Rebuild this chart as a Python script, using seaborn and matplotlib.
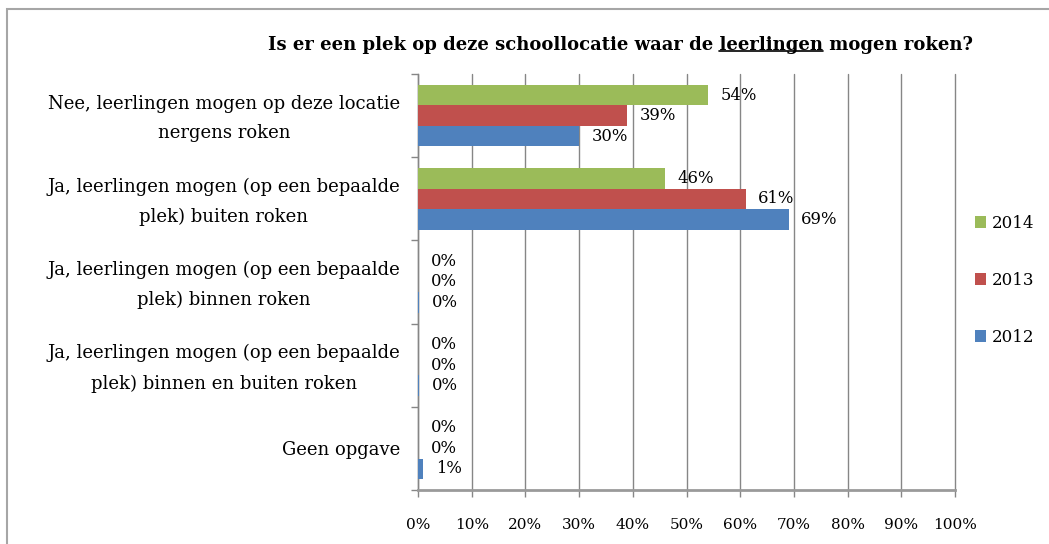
import numpy as np
import pandas as pd
import matplotlib
matplotlib.use("Agg")
import matplotlib.pyplot as plt
import matplotlib.patches as mpatches
import matplotlib.transforms as mtransforms
import seaborn as sns

categories = [
    "Nee, leerlingen mogen op deze locatie\nnergens roken",
    "Ja, leerlingen mogen (op een bepaalde\nplek) buiten roken",
    "Ja, leerlingen mogen (op een bepaalde\nplek) binnen roken",
    "Ja, leerlingen mogen (op een bepaalde\nplek) binnen en buiten roken",
    "Geen opgave",
]
years = ["2014", "2013", "2012"]
vals_2014 = [54, 46, 0, 0, 0]
vals_2013 = [39, 61, 0, 0, 0]
vals_2012 = [30, 69, 0.2, 0.2, 1]
colors = ["#9BBB59", "#C0504D", "#4F81BD"]

df = pd.DataFrame({
    "categorie": categories * 3,
    "jaar": [y for y in years for _ in categories],
    "pct": vals_2014 + vals_2013 + vals_2012,
})

sns.set_style("white")
plt.rcParams["font.family"] = ["DejaVu Serif"]
plt.rcParams["text.color"] = "black"
plt.rcParams["xtick.labelcolor"] = "black"
plt.rcParams["ytick.labelcolor"] = "black"

fig = plt.figure(figsize=(10.49, 5.44), dpi=100)
ax = fig.add_axes([418 / 1049, 1 - 490 / 544, (955 - 418) / 1049, (490 - 74) / 544])

sns.barplot(data=df, y="categorie", x="pct", hue="jaar", hue_order=years,
            order=categories, palette=colors, saturation=1, orient="h", width=0.74,
            edgecolor="none", linewidth=0, ax=ax, zorder=3)

for cont in ax.containers:
    labels = [f"{round(b.get_width())}%" for b in cont]
    ax.bar_label(cont, labels=labels, padding=9, fontsize=11.8, color="black")

ax.set_xlim(0, 100)
ax.set_ylim(len(categories) - 0.5, -0.5)
ax.set_xticks(np.arange(0, 101, 10))
ax.set_xticklabels([f"{t}%" for t in range(0, 101, 10)], fontsize=11)
ax.set_yticks(range(len(categories)))
ax.set_yticklabels(categories, fontsize=13, linespacing=1.85, multialignment="center")
ax.set_yticks(np.arange(-0.5, len(categories), 1), minor=True)
ax.tick_params(axis="y", which="major", length=0, pad=13)
ax.tick_params(axis="y", which="minor", length=5, color="#868686", width=1, left=True)
ax.tick_params(axis="x", length=5, color="#868686", width=1, bottom=True, pad=15)
ax.set_xlabel("")
ax.set_ylabel("")

# tweeregelige labels iets omhoog
shift = mtransforms.ScaledTranslation(0, 5 / 100, fig.dpi_scale_trans)
for lab in ax.get_yticklabels():
    if "\n" in lab.get_text():
        lab.set_transform(lab.get_transform() + shift)

ax.xaxis.grid(True, color="#868686", linewidth=1)
for gl in ax.get_xgridlines():
    gl.set_clip_on(False)
ax.set_axisbelow(True)
for s in ["top", "right"]:
    ax.spines[s].set_visible(False)
ax.spines["left"].set_color("#868686")
ax.spines["left"].set_linewidth(1)
ax.spines["bottom"].set_color("#9a9a9a")
ax.spines["bottom"].set_linewidth(2)

leg = ax.legend(loc="upper left", bbox_to_anchor=(968 / 1049, 1 - 208 / 544),
                bbox_transform=fig.transFigure, frameon=False, fontsize=12,
                handlelength=0.7, handleheight=0.7, handletextpad=0.3,
                labelspacing=2.4, borderaxespad=0)
for h in leg.legend_handles:
    h.set_edgecolor("none")

# titel met onderstreept woord
prefix = "Is er een plek op deze schoollocatie waar de "
word = "leerlingen"
title = prefix + word + " mogen roken?"
tx, ty = 620 / 1049, 1 - 45 / 544
t = fig.text(tx, ty, title, ha="center", va="center", fontsize=13, fontweight="bold")
fig.canvas.draw()
r = fig.canvas.get_renderer()
bb = t.get_window_extent(r)
m1 = fig.text(0, 0, prefix, fontsize=13, fontweight="bold", alpha=0)
m2 = fig.text(0, 0, prefix + word, fontsize=13, fontweight="bold", alpha=0)
w1 = m1.get_window_extent(r).width
w2 = m2.get_window_extent(r).width
x0 = (bb.x0 + w1) / fig.bbox.width
x1 = (bb.x0 + w2) / fig.bbox.width
yl = (bb.y0 + 3) / fig.bbox.height
fig.add_artist(plt.Line2D([x0, x1], [yl, yl], color="black", linewidth=1.2))

# rand om de grafiek
fig.add_artist(mpatches.Rectangle((7 / 1049, -0.2), 1.2, 1.2 - 9 / 544,
                                  transform=fig.transFigure, fill=False,
                                  edgecolor="#a6a6a6", linewidth=1.5, clip_on=False))

fig.savefig("out.png", dpi=100)
